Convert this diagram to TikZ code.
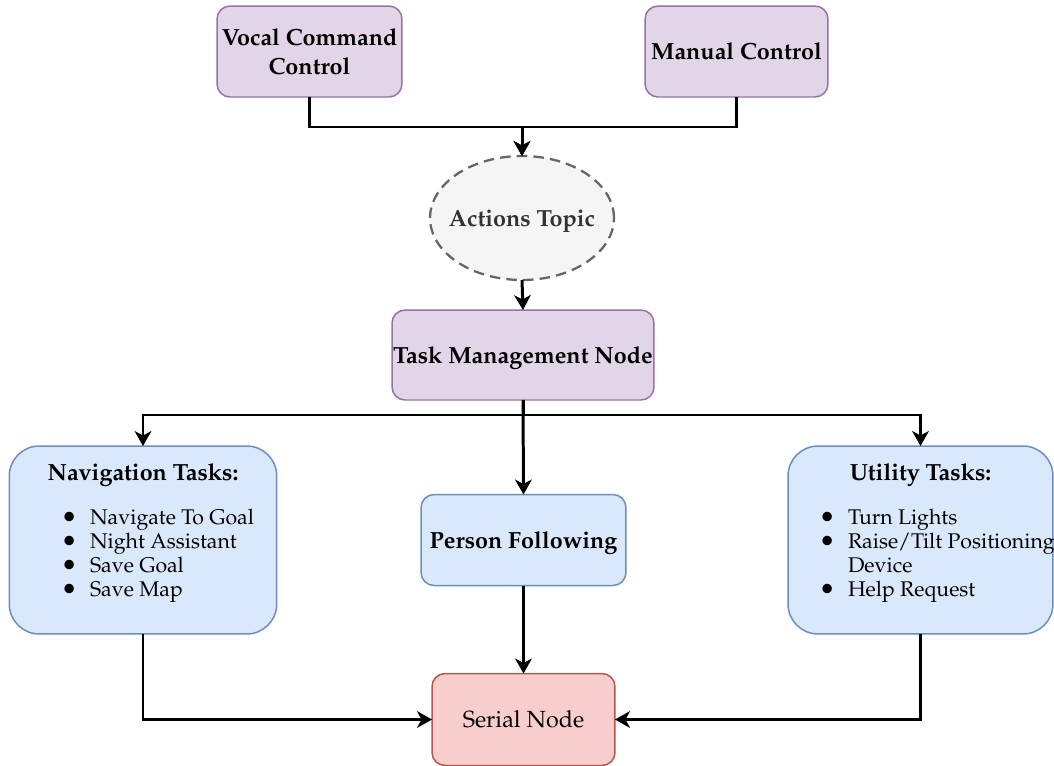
\documentclass[tikz,border=0pt]{standalone}
\usepackage[T1]{fontenc}
\usepackage{mathpazo}
\usepackage{enumitem}
\usepackage{graphicx}
\usepackage{tikz}
\usetikzlibrary{arrows.meta,shapes}

\definecolor{purplefill}{HTML}{E1D5E7}
\definecolor{purpledraw}{HTML}{9673A6}
\definecolor{greyfill}{HTML}{F5F5F5}
\definecolor{greydraw}{HTML}{666666}
\definecolor{bluefill}{HTML}{DAE8FC}
\definecolor{bluedraw}{HTML}{6C8EBF}
\definecolor{redfill}{HTML}{F8CECC}
\definecolor{reddraw}{HTML}{B85450}

\newcommand{\boldlabel}{\fontsize{13.3pt}{16pt}\selectfont\bfseries}
\newcommand{\listlabel}{\fontsize{12.1pt}{13.7pt}\selectfont}
\setlist[itemize]{label={\raisebox{-1.4pt}{\scalebox{1.3}{\textbullet}}},labelsep=0.25cm,topsep=0pt,itemsep=0pt,parsep=0pt}

\begin{document}
\begin{tikzpicture}[x=0.02cm, y=-0.02cm,
		box/.style={rectangle,draw,line width=0.85pt,inner sep=0pt,outer sep=0pt,align=center,text depth=0pt},
		purplebox/.style={box,fill=purplefill,draw=purpledraw,rounded corners=0.26cm,minimum height=1.82cm,font=\boldlabel},
		bluebox/.style={box,fill=bluefill,draw=bluedraw,rounded corners=0.6cm,minimum width=5.35cm,minimum height=3.76cm,text depth=},
		conn/.style={line width=1.7pt,-{Stealth[length=8.5pt,width=9.5pt,inset=2.5pt]}}]
		\useasboundingbox (0,0) rectangle (1054,765);

		\node[purplebox,minimum width=3.7cm] (vocal) at (309.5,51.5) {Vocal Command\\Control};
		\node[purplebox,minimum width=3.66cm] (manual) at (736.5,51.5) {Manual Control};
		\node[ellipse,draw=greydraw,fill=greyfill,dashed,line width=1.3pt,dash pattern=on 6pt off 3.5pt,inner xsep=-0.3cm,inner ysep=0pt,outer sep=0pt,minimum width=3.68cm,minimum height=2.48cm,text depth=0pt,text=black!80,font=\boldlabel] (topic) at (522,218) {Actions Topic};
		\node[purplebox,minimum width=5.24cm,minimum height=1.8cm] (task) at (523,355) {Task Management Node};

		\node[bluebox] (nav) at (143,540) {\begin{minipage}{5cm}\listlabel
			\centering{\boldlabel Navigation Tasks:}\par\vspace{9pt}
			\begin{itemize}[leftmargin=1.44cm]
				\item Navigate To Goal
				\item Night Assistant
				\item Save Goal
				\item Save Map
			\end{itemize}\vspace{6pt}
		\end{minipage}};
		\node[box,fill=bluefill,draw=bluedraw,rounded corners=0.26cm,minimum width=4.1cm,minimum height=1.82cm,font=\boldlabel] (person) at (523.5,540) {Person Following};
		\node[bluebox,minimum width=5.3cm] (util) at (920.5,540) {\begin{minipage}{5.1cm}\listlabel
			\centering{\boldlabel Utility Tasks:}\par\vspace{9pt}
			\raggedright
			\begin{itemize}[leftmargin=1.1cm]
				\item Turn Lights
				\item \makebox[\linewidth][l]{Raise/Tilt Positioning}\newline Device
				\item Help Request
			\end{itemize}\vspace{6pt}
		\end{minipage}};

		\node[box,fill=redfill,draw=reddraw,rounded corners=0.26cm,minimum width=3.66cm,minimum height=1.84cm,font=\fontsize{13.3pt}{16pt}\selectfont] (serial) at (523.5,719.5) {Serial Node};

		% top part
		\draw[conn] (vocal.south) -- ++(0,30) -| (topic.north);
		\draw[conn] (manual.south) -- ++(0,30) -| (topic.north);
		\draw[conn] (topic.south) -- (task.north);

		% tasks
		\draw[conn] (task.south) -- ++(0,15) -| (nav.north);
		\draw[conn] (task.south) -- ++(0,15) -| (util.north);
		\draw[conn] (task.south) -- (person.north);

		% serial
		\draw[conn] (nav.south) |- (serial.west);
		\draw[conn] (util.south) |- (serial.east);
		\draw[conn] (person.south) -- (serial.north);
\end{tikzpicture}
\end{document}
